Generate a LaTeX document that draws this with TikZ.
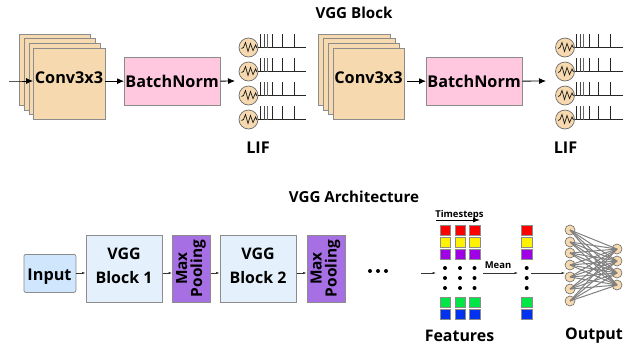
\documentclass[tikz,border=0pt]{standalone}
\usepackage{fontspec}
\setmainfont{Open Sans}
\usetikzlibrary{arrows.meta}
\definecolor{convfill}{HTML}{F6D9AE}
\definecolor{bnfill}{HTML}{FFC8DE}
\definecolor{edgegray}{HTML}{8C8C8C}
\definecolor{lifring}{HTML}{6B6B6B}
\definecolor{inputfill}{HTML}{CFE6FD}
\definecolor{vggfill}{HTML}{E4F1FC}
\definecolor{poolfill}{HTML}{A66FE3}
\definecolor{nnfill}{HTML}{F6D9AE}
\tikzset{
  x=1bp,y=-1bp,
  box/.style={draw=edgegray,line width=0.8bp,inner sep=0pt,anchor=north west,font=\fontsize{16.3}{18}\bfseries},
  convbox/.style={box,fill=convfill,minimum width=71.5bp,minimum height=71.5bp},
  bnbox/.style={box,fill=bnfill,minimum width=95.5bp,minimum height=47.5bp},
  vggbox/.style={box,fill=vggfill,minimum width=76.5bp,minimum height=66.5bp},
  vggtext/.style={font=\fontsize{16}{24}\bfseries,align=center},
  poolbox/.style={box,fill=poolfill,minimum width=38bp,minimum height=66.5bp},
  pooltext/.style={font=\fontsize{15.5}{15}\bfseries,rotate=90,align=center},
  inbox/.style={box,fill=inputfill,rounded corners=2bp,minimum width=52bp,minimum height=38bp},
  lifcirc/.style={circle,draw=lifring,line width=0.7bp,fill=convfill,minimum size=19bp,inner sep=0pt},
  bigarrow/.style={-{Latex[length=7bp,width=6bp]},line width=0.8bp,black},
  smallarrow/.style={-{Latex[length=3.5bp,width=2.5bp]},line width=0.6bp,black!80},
  title/.style={font=\fontsize{15.2}{17}\bfseries},
  lab/.style={font=\fontsize{16.3}{18}\bfseries},
  minilab/.style={font=\fontsize{9.5}{11}\bfseries},
  cell/.style={draw=black!45,line width=0.4bp,minimum size=10.5bp,inner sep=0pt},
  blob/.style={circle,fill=black,minimum size=4bp,inner sep=0pt},
  nnode/.style={circle,draw=lifring,line width=0.6bp,fill=nnfill,minimum size=10bp,inner sep=0pt},
}
\newcommand{\lifrow}[3]{% name, cx, cy
  \node[lifcirc] (#1) at (#2,#3) {};
  \draw[line width=0.7bp,black!90] (#2-7,#3+1) -- ++(2,-1) -- ++(2,-5) -- ++(2.5,9) -- ++(2.5,-8) -- ++(2.5,7) -- ++(2.5,-5.5) -- ++(1.5,3);
  \coordinate (#1e) at (#2+57.5,#3);
  \draw[line width=0.7bp,black!85] (#1.east) -- (#1e);
  \foreach \dx/\cc in {11.5/black!85,15.5/black!70,18.5/black!60,24/black!85,33.5/black!85,45.5/black!85}
    \draw[line width=0.7bp,\cc] (#2+\dx,#3) -- (#2+\dx,#3-14);
}
\begin{document}
\begin{tikzpicture}
\useasboundingbox (0,0) rectangle (634,347);
\fill[white] (0,0) rectangle (634,347);

\node[title] (t1) at (354,13) {VGG Block};
\node[title] (t2) at (354,197) {VGG Architecture};

% first block
\coordinate (in1) at (9,81);
\node[convbox] (a1) at (18.5,33.5) {};
\node[convbox] (a2) at (23.5,38) {};
\node[convbox] (a3) at (28.5,42.5) {};
\node[convbox] (a4) at (33,47.5) {};
\node[font=\fontsize{16.3}{18}\bfseries] (a4t) at (69,78) {Conv3x3};
\node[bnbox] (b1) at (124,57) {BatchNorm};
\lifrow{la}{248.5}{47.5}
\lifrow{lb}{248.5}{71.5}
\lifrow{lc}{248.5}{95.5}
\lifrow{ld}{248.5}{119.5}
\coordinate (o1) at (235,81);
\draw[bigarrow] (in1) -- (a1.west |- in1) -- (a4.west |- in1);
\draw[bigarrow] (a4.east |- b1.west) -- (b1.west);
\draw[bigarrow] (b1.east) -- (o1);
\node[lab] (lif1) at (258,148) {LIF};

% second block
\node[convbox] (c1) at (318,33.5) {};
\node[convbox] (c2) at (323,38) {};
\node[convbox] (c3) at (327.5,42.5) {};
\node[convbox] (c4) at (332.5,47.5) {};
\node[font=\fontsize{16.3}{18}\bfseries] (c4t) at (368.5,78) {Conv3x3};
\node[bnbox] (b2) at (426,57) {BatchNorm};
\lifrow{lp}{565}{47.5}
\lifrow{lq}{565}{71.5}
\lifrow{lr}{565}{95.5}
\lifrow{ls}{565}{119.5}
\coordinate (o2) at (546,81);
\draw[bigarrow,shorten <=2.5bp] (c4.east |- b2.west) -- (b2.west);
\draw[bigarrow] (b2.east) -- (o2);
\node[lab] (lif2) at (565.5,148) {LIF};

% architecture row
\node[inbox] (input) at (23.5,254) {};
\node[lab] (inputt) at (49.5,276.5) {Input};
\node[vggbox] (v1) at (85.5,235) {};
\node[vggtext] (v1t) at (124,266) {VGG\\Block 1};
\node[poolbox] (p1) at (172,235) {};
\node[pooltext] (p1t) at (191,268.5) {Max\\Pooling};
\node[vggbox] (v2) at (219.5,235) {};
\node[vggtext] (v2t) at (258,266) {VGG\\Block 2};
\node[poolbox] (p2) at (306.5,235) {};
\node[pooltext] (p2t) at (325.5,268.5) {Max\\Pooling};
\draw[smallarrow] (input.east |- 0,273) -- (v1.west |- 0,273);
\draw[smallarrow] (v1.east |- 0,273) -- (p1.west |- 0,273);
\draw[smallarrow] (p1.east |- 0,273) -- (v2.west |- 0,273);
\draw[smallarrow] (v2.east |- 0,273) -- (p2.west |- 0,273);
\foreach \n/\x in {e1/370,e2/378,e3/386}
  \node[circle,fill=black,minimum size=4bp,inner sep=0pt] (\n) at (\x,271) {};

% features
\foreach \cn/\x in {A/445,B/460,C/474.5,D/526.7}{
  \node[cell,fill=red] (\cn1) at (\x,230) {};
  \node[cell,fill=yellow] (\cn2) at (\x,242) {};
  \node[cell,fill={rgb,255:red,160;green,0;blue,230}] (\cn3) at (\x,254) {};
  \node[blob] (\cn4) at (\x,268) {};
  \node[blob] (\cn5) at (\x,278) {};
  \node[blob] (\cn6) at (\x,288) {};
  \node[cell,fill={rgb,255:red,0;green,230;blue,70}] (\cn7) at (\x,302) {};
  \node[cell,fill={rgb,255:red,0;green,50;blue,240}] (\cn8) at (\x,314) {};
}
\node[minilab] (ts) at (459.5,215) {Timesteps};
\coordinate (ts0) at (436,220);
\coordinate (ts1) at (480,220);
\draw[-{Latex[length=7bp,width=5bp]},line width=0.8bp] (ts0) -- (ts1);
\coordinate (f0) at (421,273);
\coordinate (f1) at (436,273);
\draw[smallarrow] (f0) -- (f1);
\coordinate (m0) at (483,273);
\coordinate (m1) at (518,273);
\draw[smallarrow] (m0) -- (m1);
\node[minilab] (mean) at (498,265) {Mean};
\coordinate (n0) at (531,273);
\coordinate (n1) at (565,273);

% network
\foreach \i/\y in {1/230,2/242,3/253,4/265,5/277,6/289,7/301}
  \node[nnode] (NL\i) at (570,\y) {};
\foreach \j/\y in {1/249,2/261,3/273,4/285}
  \node[nnode] (NR\j) at (617,\y) {};
\foreach \i in {1,...,7}
  \foreach \j in {1,...,4}
    \draw[draw=black!50,line width=1bp] (NL\i.center) -- (NR\j.center);
\draw[smallarrow] (n0) -- (n1);

\node[font=\fontsize{16}{18}\bfseries] (feat) at (459.5,336) {Features};
\node[font=\fontsize{16}{18}\bfseries] (outp) at (594,336) {Output};
\end{tikzpicture}
\end{document}
